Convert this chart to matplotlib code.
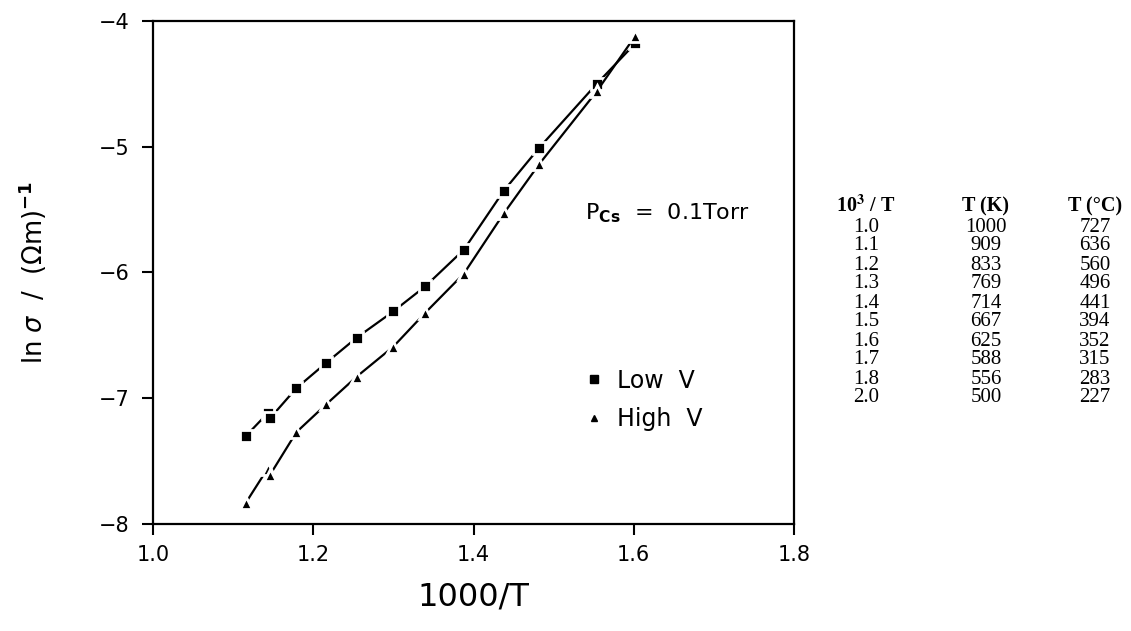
import matplotlib
matplotlib.use("Agg")
import matplotlib.pyplot as plt
from matplotlib.lines import Line2D

# ---- data ----
x_low = [1.116, 1.143, 1.146, 1.179, 1.216, 1.254, 1.300, 1.340, 1.388, 1.438, 1.482, 1.554, 1.602]
y_low = [-7.30, -7.12, -7.16, -6.92, -6.72, -6.52, -6.31, -6.11, -5.82, -5.35, -5.01, -4.50, -4.18]
x_high = [1.116, 1.143, 1.146, 1.179, 1.216, 1.254, 1.300, 1.340, 1.388, 1.438, 1.482, 1.554, 1.602]
y_high = [-7.83, -7.56, -7.61, -7.27, -7.05, -6.83, -6.59, -6.32, -6.01, -5.53, -5.14, -4.56, -4.12]

x_ticks = [1.0, 1.2, 1.4, 1.6, 1.8]
y_ticks = [-8, -7, -6, -5, -4]

tab_header = [r"10$^{\mathbf{3}}$ / T", "T (K)", "T (°C)"]
tab_inv = ["1.0", "1.1", "1.2", "1.3", "1.4", "1.5", "1.6", "1.7", "1.8", "2.0"]
tab_K = ["1000", "909", "833", "769", "714", "667", "625", "588", "556", "500"]
tab_C = ["727", "636", "560", "496", "441", "394", "352", "315", "283", "227"]

plt.rcParams['font.family'] = ['DejaVu Sans']
plt.rcParams['mathtext.fontset'] = 'dejavusans'

W, H = 1131, 631
fig = plt.figure(figsize=(W / 100, H / 100), dpi=100)
ax = fig.add_axes([153 / W, 1 - 524 / H, (794 - 153) / W, (524 - 20.7) / H])

ax.plot(x_low, y_low, color='black', lw=1.6, marker='s', ms=8.5,
        mfc='black', mec='white', mew=2.0, zorder=3)
ax.plot(x_high, y_high, color='black', lw=1.6, marker='^', ms=8.0,
        mfc='black', mec='white', mew=2.0, zorder=3)

ax.set_xlim(1.0, 1.8)
ax.set_ylim(-8, -4)
ax.set_xticks(x_ticks)
ax.set_xticklabels([f"{v:.1f}" for v in x_ticks])
ax.set_yticks(y_ticks)
ax.set_yticklabels([f"\u2212{abs(v)}" for v in y_ticks])

for s in ax.spines.values():
    s.set_linewidth(1.6)
ax.tick_params(axis='both', direction='out', length=8, width=1.5, labelsize=15)
ax.tick_params(axis='x', pad=7)
ax.tick_params(axis='y', pad=9)

ax.set_xlabel("1000/T", fontsize=23, labelpad=12)
ax.set_ylabel(r"ln $\sigma$  /  ($\Omega$m)$^{\mathbf{-1}}$", fontsize=18.5)
ax.yaxis.set_label_coords(-0.163, 0.5)

ax.text(0.674, 0.618, r"P$_{\mathbf{Cs}}$  =  0.1Torr", transform=ax.transAxes,
        ha='left', va='center', fontsize=16)

handles = [Line2D([], [], ls='none', marker='s', ms=6, color='black'),
           Line2D([], [], ls='none', marker='^', ms=5, color='black')]
ax.legend(handles, ["Low  V", "High  V"], loc='center left',
          bbox_to_anchor=(0.655, 0.247), frameon=False, fontsize=17,
          handlelength=0.8, handletextpad=0.55, labelspacing=0.6, borderpad=0)

# ---- side table ----
col_x = [866, 986, 1095]
head_y = 206
row_y0, row_dy = 227, 19
for cx, h in zip(col_x, tab_header):
    fig.text(cx / W, 1 - head_y / H, h, ha='center', va='center',
             family='Liberation Serif', fontweight='bold', fontsize=14.5,
             math_fontfamily='stix')
for i, (a, b, c) in enumerate(zip(tab_inv, tab_K, tab_C)):
    yy = 1 - (row_y0 + row_dy * i) / H
    for cx, t in zip(col_x, (a, b, c)):
        fig.text(cx / W, yy, t, ha='center', va='center',
                 family='Liberation Serif', fontsize=15)

fig.savefig("out.png", dpi=100)
